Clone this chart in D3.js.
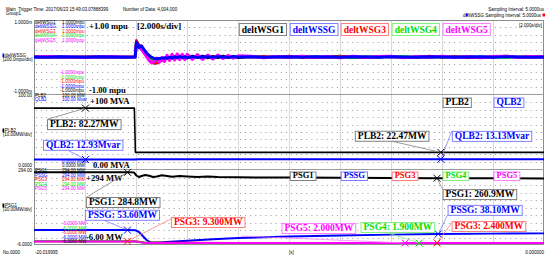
<!DOCTYPE html>
<html>
<head>
<meta charset="utf-8">
<script src="https://cdn.jsdelivr.net/npm/d3@7"></script>
<style>
  body { margin: 0; background: #fff; }
  svg { display: block; }
  .small { font-family: "Liberation Sans", Arial, sans-serif; font-size: 4.5px; }
  .big { font-family: "Liberation Serif", "Times New Roman", serif; font-weight: bold; }
</style>
</head>
<body>
<svg width="550" height="258"></svg>
<script>
// time axis [s]
var tStart = -20.019995, tEnd = 0;

// deltWSG traces [mpu]
var t1 = [-20.02, -19.5, -19, -18.5, -18, -17.5, -17, -16.5, -16.05,
  -16.0, -15.9, -15.8, -15.7, -15.6, -15.5, -15.4, -15.3, -15.2, -15.1, -15.0, -14.9, -14.8, -14.7, -14.6, -14.5,
  -14.4, -14.3, -14.2, -14.1, -14.0, -13.8, -13.6, -13.4, -13.2, -13.0, -12.8, -12.6, -12.4, -12.2, -12.0,
  -11.5, -11.0, -10.5, -10.0, -9.5, -9.0, -8.5, -8.0, -7.5, -7.0, -6.5, -6.0, -5.5, -5.0, -4.5, -4.0,
  -3.5, -3.0, -2.5, -2.0, -1.5, -1.0, -0.5, 0];
var deltWSG1 = [0, 0.01, -0.01, 0, 0.01, 0, -0.01, 0.01, 0,
  0.42, 0.30, 0.26, 0.14, 0.04, -0.06, -0.13, -0.17, -0.16, -0.12, -0.08, -0.04, -0.05, -0.01, -0.04, 0.02,
  -0.03, 0.03, -0.03, 0.02, -0.03, 0.03, -0.02, 0.03, -0.03, 0.02, -0.02, 0.03, -0.02, 0.02, -0.02,
  0.01, -0.02, 0.02, -0.01, 0.02, -0.02, 0.01, 0.03, -0.02, 0.01, -0.01, 0.02, -0.02, 0.01, 0.02, -0.01,
  0.02, -0.02, 0.01, -0.01, 0.02, -0.01, 0.01, 0];
var deltWSSG = [0, -0.01, 0.01, 0, -0.01, 0.01, 0, -0.01, 0,
  0.40, 0.26, 0.30, 0.20, 0.11, 0.04, -0.01, -0.04, -0.05, -0.04, -0.03, -0.02, -0.03, -0.01, -0.02, 0,
  -0.02, 0.01, -0.01, 0, -0.02, 0.01, -0.01, 0, 0.01, -0.01, 0.01, 0, -0.01, 0.01, 0,
  0.01, -0.01, 0, 0.01, -0.01, 0.01, 0, -0.01, 0.01, 0, -0.01, 0.01, 0, -0.01, 0.01, 0,
  -0.01, 0, 0.01, -0.01, 0.01, 0, -0.01, 0];
var deltWSG3 = [0, 0.01, 0, -0.01, 0, 0.01, 0, -0.01, 0,
  0.45, 0.33, 0.27, 0.15, 0.05, -0.05, -0.12, -0.16, -0.17, -0.13, -0.09, -0.05, -0.02, -0.05, 0.02, -0.04,
  0.03, -0.03, 0.03, -0.04, 0.02, -0.03, 0.03, -0.02, 0.03, -0.03, 0.02, -0.02, 0.03, -0.02, 0.02,
  -0.01, 0.02, -0.01, 0.03, -0.02, 0.01, -0.02, 0.02, 0.01, -0.02, 0.02, -0.01, 0.01, -0.02, 0.03, -0.01,
  0.01, 0.02, -0.02, 0.01, 0.03, -0.01, 0.02, 0];
var deltWSG4 = [0, 0, 0.01, 0, -0.01, 0, 0.01, 0, 0,
  0.36, 0.27, 0.22, 0.13, 0.05, -0.02, -0.07, -0.10, -0.10, -0.08, -0.06, -0.04, -0.02, -0.03, -0.01, -0.02,
  0.01, -0.02, 0.01, -0.01, 0.02, -0.01, 0.01, -0.02, 0.01, -0.01, 0.02, -0.01, 0.01, -0.01, 0.01,
  0.02, -0.01, 0.01, -0.02, 0.01, 0.02, -0.01, 0, -0.02, 0.02, -0.01, 0.01, 0.02, -0.01, -0.02, 0.01,
  0, 0.02, -0.01, 0.01, -0.02, 0.01, 0, 0];
var deltWSG5 = [0, 0.01, 0, 0, -0.01, 0, 0.01, 0, 0,
  0.34, 0.26, 0.21, 0.11, 0.01, -0.09, -0.16, -0.12, -0.03, -0.14, -0.02, -0.12, 0.04, -0.09, 0.07, -0.08,
  0.08, -0.07, 0.07, -0.07, 0.07, -0.06, 0.06, -0.06, 0.05, -0.05, 0.05, -0.04, 0.04, -0.03, 0.03,
  0.02, -0.02, 0.01, -0.01, 0.02, -0.01, 0.01, -0.02, 0.02, -0.01, 0.01, 0.02, -0.02, 0.01, -0.01, 0.02,
  -0.01, 0.01, -0.02, 0.01, 0.02, -0.01, 0.01, 0];

// load bus LB2 [MW / Mvar]
var tPLB2 = [-20.02, -18.0, -16.08, -16.04, -4.05, 0];
var PLB2 = [82.27, 82.27, 82.3, 22.5, 22.47, 22.47];
var tQLB2 = [-20.02, -18.0, -16.05, -15.9, -4.05, 0];
var QLB2 = [12.93, 12.93, 12.95, 13.1, 13.13, 13.13];

// generators [MW]
var tPSG1 = [-20.02, -16.35, -16.1, -16.0, -15.9, -15.8, -15.65, -15.5, -15.35, -15.2, -15.0, -14.8, -14.6,
  -14.3, -14.0, -13.6, -13.2, -12.8, -12.0, -11.0, -10.0, -8.0, -6.0, -4.2, -2.0, 0];
var PSG1 = [284.8, 284.8, 284.5, 272, 266, 270, 274, 271, 266, 268, 273, 270, 267,
  270, 268, 266, 268, 266, 265, 264, 264, 263, 262, 260.9, 261, 260.5];
var tPSSG = [-20.02, -16.35, -16.05, -15.9, -15.75, -15.6, -15.45, -15.3, -15.0, -14.5, -14.0, -13.0, -12.0,
  -10.0, -8.0, -6.0, -4.15, -2.0, 0];
var PSSG = [53.6, 53.6, 53.2, 46, 30, 14, 5, 3, 5, 8, 11, 17, 22, 28, 32, 35.5, 38.1, 39.5, 40.5];
var tPSGx = [-20.02, -16.35, -16.05, -15.9, -15.7, -15.5, -15.2, -14.8, -14.0, -12.0, -8.0, -5.45, -4.9, -4.2, 0];
var PSG3 = [9.3, 9.3, 9.2, 7, 4, 3.2, 4, 3, 2.6, 2.5, 2.4, 2.4, 2.4, 2.4, 2.4];
var PSG4 = [8.6, 8.6, 8.5, 6, 3.5, 2.6, 3.6, 2.4, 2.1, 2.0, 1.9, 1.9, 1.9, 1.9, 1.9];
var PSG5 = [8.0, 8.0, 7.9, 5.5, 3, 2.2, 3.2, 2.2, 2.0, 2.0, 2.0, 2.0, 2.0, 2.0, 2.0];

// cursor readouts
var cursorSeries = ["PLB2", "QLB2", "PLB2", "QLB2", "PSG1", "PSSG", "PSG3", "PSG1", "PSSG", "PSG3", "PSG4", "PSG5"];
var cursorTimes = [-18.0, -18.0, -4.05, -4.05, -16.35, -16.35, -16.35, -4.2, -4.15, -4.2, -4.9, -5.45];
var cursorValues = [82.27, 12.93, 22.47, 13.13, 284.8, 53.6, 9.3, 260.9, 38.1, 2.4, 1.9, 2.0];
var cursorUnits = ["MW", "Mvar", "MW", "Mvar", "MW", "MW", "MW", "MW", "MW", "MW", "MW", "MW"];

// legends
var wsgNames = ["deltWSG1", "deltWSSG", "deltWSG3", "deltWSG4", "deltWSG5"];
var lbNames = ["PLB2", "QLB2"];
var psgNames = ["PSG1", "PSSG", "PSG3", "PSG4", "PSG5"];

var col = {black: "#000000", blue: "#0000ff", red: "#ff0000", green: "#00e000", magenta: "#ff00ff"};
var light = {black: "#808080", blue: "#8080ff", red: "#ff8080", green: "#80f080", magenta: "#ff80ff"};
var five = ["black", "blue", "red", "green", "magenta"];
var seriesCol = {PLB2: "black", QLB2: "blue", PSG1: "black", PSSG: "blue", PSG3: "red", PSG4: "green", PSG5: "magenta"};

var svg = d3.select("svg"),
    left = 34, right = 544;

var panels = [
  {top: 20, bottom: 94, domain: [-1, 1]},
  {top: 95, bottom: 169, domain: [0, 100]},
  {top: 170, bottom: 245, domain: [-6, 294]}
];

var x = d3.scaleLinear().domain([tStart, tEnd]).range([left, right]);
var ys = panels.map(function(p) {
  return d3.scaleLinear().domain(p.domain).range([p.bottom, p.top]);
});

// ---- grid
var grid = svg.append("g");
grid.selectAll("line.v")
  .data(d3.range(1, 10))
  .enter().append("line")
  .attr("x1", function(k) { return Math.round(x(tStart + 2 * k)) + 0.5; })
  .attr("x2", function(k) { return Math.round(x(tStart + 2 * k)) + 0.5; })
  .attr("y1", 20).attr("y2", 245)
  .attr("stroke", "#d8d8d8").attr("stroke-width", 1);

panels.forEach(function(p, i) {
  var d = p.domain;
  grid.append("g").selectAll("line")
    .data(d3.range(1, 10).map(function(k) { return d[0] + k * (d[1] - d[0]) / 10; }))
    .enter().append("line")
    .attr("x1", left + 2).attr("x2", right)
    .attr("y1", function(v) { return Math.round(ys[i](v)) + 0.5; })
    .attr("y2", function(v) { return Math.round(ys[i](v)) + 0.5; })
    .attr("stroke", "#9a9a9a").attr("stroke-width", 1)
    .attr("stroke-dasharray", "1,4.1");
});

// panel frames
svg.append("rect")
  .attr("x", left + 0.5).attr("y", 20.5)
  .attr("width", right - left - 1).attr("height", 245 - 20 - 1)
  .attr("fill", "none").attr("stroke", "#8c8c8c");
[94.5, 169.5].forEach(function(yy) {
  svg.append("line").attr("x1", left).attr("x2", right).attr("y1", yy).attr("y2", yy)
    .attr("stroke", "#9a9a9a");
});

// ---- traces
function trace(ts, vs, yScale, color, w) {
  svg.append("path")
    .datum(vs)
    .attr("fill", "none")
    .attr("stroke", color)
    .attr("stroke-width", w)
    .attr("stroke-linejoin", "round")
    .attr("d", d3.line()
      .x(function(d, i) { return x(ts[i]); })
      .y(function(d) { return yScale(d); }));
}

trace(t1, deltWSG1, ys[0], col.black, 2.5);
trace(t1, deltWSG3, ys[0], col.red, 2.5);
trace(t1, deltWSG4, ys[0], col.green, 2.5);
trace(t1, deltWSG5, ys[0], col.magenta, 3.2);
trace(t1, deltWSSG, ys[0], col.blue, 3);

trace(tPLB2, PLB2, ys[1], col.black, 1.6);
trace(tQLB2, QLB2, ys[1], col.blue, 2);

trace(tPSG1, PSG1, ys[2], col.black, 2);
trace(tPSSG, PSSG, ys[2], col.blue, 2);
trace(tPSGx, PSG3, ys[2], col.red, 2);
trace(tPSGx, PSG4, ys[2], col.green, 2);
trace(tPSGx, PSG5, ys[2], col.magenta, 2);

// ---- text helpers
function small(txt, xx, yy, color, anchor) {
  return svg.append("text").attr("class", "small")
    .attr("x", xx).attr("y", yy)
    .attr("fill", color || "#000")
    .attr("text-anchor", anchor || "start")
    .text(txt);
}
function big(txt, xx, yy, size, color) {
  return svg.append("text").attr("class", "big")
    .attr("x", xx).attr("y", yy)
    .attr("font-size", size)
    .attr("fill", color || "#000")
    .text(txt);
}
function boxed(txt, bx, by, h, size, c) {
  var g = svg.append("g");
  var r = g.append("rect");
  var t = g.append("text").attr("class", "big").attr("font-size", size)
    .attr("fill", col[c]).text(txt);
  var w = t.node().getComputedTextLength() + 5;
  r.attr("x", bx + 0.5).attr("y", by + 0.5).attr("width", w).attr("height", h)
    .attr("fill", "#fff").attr("stroke", light[c]).attr("stroke-width", 1);
  t.attr("x", bx + 3).attr("y", by + h - 1.8);
  return w;
}

// ---- header
small("Main  Trigger Time: 2017/06/23 15:49:03.07888399", 6, 10.5).attr("xml:space", "preserve");
small("Group1", 6, 15);
small("Number of Data: 4,004,000", 123, 10.5);
small("Sampling Interval: 5.0000us", 544, 11, null, "end");
small("deltWSSG Sampling Interval: 5.0000us", 541, 16.5, null, "end");
svg.append("rect").attr("x", 466).attr("y", 13.2).attr("width", 1.6).attr("height", 3.2).attr("fill", col.blue);
svg.append("rect").attr("x", 542.5).attr("y", 13.5).attr("width", 2.5).attr("height", 3).attr("fill", col.red);
small("[2.000s/div]", 542, 27, null, "end");

// ---- left scale labels, panel 1
small("1.0000m", 32, 23.5, null, "end");
wsgNames.forEach(function(n, i) {
  small(n, 35, 23.5 + i * 4.5, col[five[i]]);
  small("1.0000mpu", 62, 23.5 + i * 4.5, col[five[i]]);
  small("-1.0000mpu", 60, 92 - i * 4.5, col[five[i]]);
});
svg.append("rect").attr("x", 2.5).attr("y", 53.5).attr("width", 1.8).attr("height", 4).attr("fill", col.blue);
small("deltWSSG", 5, 57);
small("[200.0mpu/div]", 3, 61);
small("-1.0000m", 32, 93, null, "end");

// panel 2
small("100.00", 32, 97, null, "end");
lbNames.forEach(function(n, i) {
  small(n, 35, 97 + i * 4.3, col[seriesCol[n]]);
  small("100.00 " + (i ? "Mvar" : "MW"), 62, 97 + i * 4.3, col[seriesCol[n]]);
});
svg.append("rect").attr("x", 2.5).attr("y", 128.5).attr("width", 1.8).attr("height", 4).attr("fill", col.black);
small("PLB2", 5, 132);
small("[10.00MW/div]", 3, 136);
small("0.0000 Mvar", 62, 163, col.blue);
small("0.0000 MW", 62, 167);
small("0.0000", 32, 167, null, "end");

// panel 3
small("294.00", 32, 172, null, "end");
psgNames.forEach(function(n, i) {
  small(n, 35, 172 + i * 4.6, col[five[i]]);
  small("294.00 MW", 62, 172 + i * 4.6, col[five[i]]);
  small("-6.0000 MW", 62, 243 - i * 4.5, col[five[i]]);
});
svg.append("rect").attr("x", 2.5).attr("y", 203.5).attr("width", 1.8).attr("height", 4).attr("fill", col.black);
small("PSG1", 5, 207);
small("[30.00MW/div]", 3, 211);
small("-6.0000", 32, 245.5, null, "end");

// x axis
small("No.0000", 3, 253.5);
small("-20.019995", 35, 253.5);
small("[s]", 289, 253.5);
small("0.000000", 544, 253.5, null, "end");

// ---- scale annotations
big("+1.00 mpu", 89, 29, 8.6);
big("[2.000s/div]", 137, 29, 9);
big("-1.00 mpu", 89, 93, 8.6);
big("+100 MVA", 90, 104, 8.6);
big("0.00 MVA", 93, 168, 8.6);
big("+294 MW", 86, 181, 8.6);
big("-6.00 MW", 86, 240, 8.6);

// ---- legend boxes, placed on the 2 s grid columns
wsgNames.forEach(function(n, i) {
  boxed(n, x(tStart + 2 * (4 + i)) + 1, 23, 12, 9.5, five[i]);
});
lbNames.forEach(function(n, i) {
  boxed(n, x(tStart + 2 * (8 + i)) + 1, 97.5, 9.5, 9.5, seriesCol[n]);
});
psgNames.forEach(function(n, i) {
  boxed(n, x(tStart + 2 * (5 + i)) + 1, 171.5, 8.5, 8.5, five[i]);
});

// ---- cursor readouts: box offset from marker [dx, dy] and leader anchor in box [ax, ay]
var cursorLayout = [
  [-38.5, 11, 1, 0], [-42.5, -19.6, 24, 10], [-86, -21.6, 35, 10], [11, -28.4, 0, 0],
  [-41.6, 24.7, 1, 0], [-42.6, -20.3, 18, 10], [43.4, -24.2, 0, 2],
  [5.6, 10.8, 0, 0], [9.3, -29.1, 0, 10], [14.6, -21.9, 0, 2], [-58.6, -21, 24, 10], [-123.6, -20, -40, 13]
];
var fmt = d3.format(".4g");
var cursorPanel = function(n) { return (n === "PLB2" || n === "QLB2") ? 1 : 2; };

var leaders = svg.append("g"), marks = svg.append("g");
cursorSeries.forEach(function(n, i) {
  var c = seriesCol[n];
  var mx = x(cursorTimes[i]), my = ys[cursorPanel(n)](cursorValues[i]);
  var L = cursorLayout[i];
  var bx = mx + L[0], by = my + L[1];
  leaders.append("line")
    .attr("x1", bx + L[2]).attr("y1", by + L[3])
    .attr("x2", mx).attr("y2", my)
    .attr("stroke", light[c]).attr("stroke-width", 0.8);
  marks.append("path")
    .attr("transform", "translate(" + mx + "," + my + ")")
    .attr("d", "M-3.5,-3.5L3.5,3.5M-3.5,3.5L3.5,-3.5")
    .attr("stroke", col[c]).attr("stroke-width", 1).attr("fill", "none");
  boxed(n + ": " + fmt(cursorValues[i]) + cursorUnits[i], bx, by, 10, 9.5, c);
});
</script>
</body>
</html>
